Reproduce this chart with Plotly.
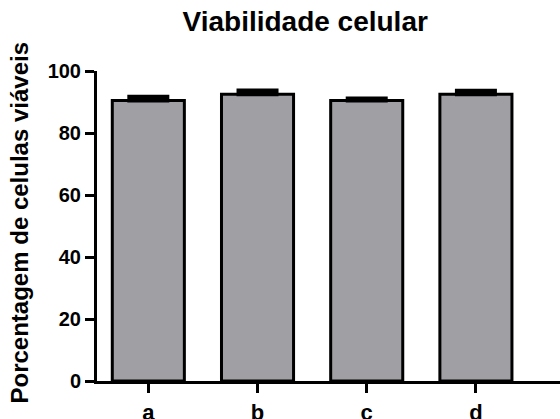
import plotly.graph_objects as go

# Cell viability per group (% viable cells, mean ± SEM)
groups = ["a", "b", "c", "d"]
viability = [90.5, 92.5, 90.5, 92.5]
sem = [1.2, 1.2, 0.6, 1.1]
y_ticks = [0, 20, 40, 60, 80, 100]

font_family = "Liberation Sans, Arial, sans-serif"

fig = go.Figure(
    go.Bar(
        x=groups,
        y=viability,
        width=0.66,
        marker=dict(color="#a0a0a4", line=dict(color="black", width=3)),
        error_y=dict(
            type="data",
            symmetric=False,
            array=sem,
            arrayminus=[0] * len(sem),
            color="black",
            thickness=4,
            width=21,
        ),
    )
)

fig.update_layout(
    width=560,
    height=419,
    margin=dict(l=97, r=0, t=71, b=38),
    paper_bgcolor="white",
    plot_bgcolor="white",
    showlegend=False,
    title=dict(
        text="<b>Viabilidade celular</b>",
        x=0.545,
        xanchor="center",
        y=0.95,
        yanchor="middle",
        font=dict(family=font_family, size=28, color="black"),
    ),
    font=dict(family=font_family, color="black"),
)

# Vertical axis caption placed beside the tick labels
fig.add_annotation(
    text="<b>Porcentagem de celulas viáveis</b>",
    textangle=-90,
    xref="paper",
    yref="paper",
    x=-0.168,
    y=0.512,
    xanchor="center",
    yanchor="middle",
    showarrow=False,
    font=dict(family=font_family, size=24, color="black"),
)

fig.update_xaxes(
    type="category",
    range=[-0.47, 3.77],
    automargin=False,
    showline=True,
    linecolor="black",
    linewidth=3,
    ticks="outside",
    ticklen=9,
    tickwidth=3,
    tickcolor="black",
    ticklabelstandoff=1,
    tickfont=dict(family=font_family, size=22, color="black", weight="bold"),
    showgrid=False,
    zeroline=False,
)

fig.update_yaxes(
    range=[0, 100],
    automargin=False,
    tickvals=y_ticks,
    ticktext=[f"<b>{v}</b>" for v in y_ticks],
    showline=True,
    linecolor="black",
    linewidth=3,
    ticks="outside",
    ticklen=9,
    tickwidth=3,
    tickcolor="black",
    tickfont=dict(family=font_family, size=20, color="black"),
    showgrid=False,
    zeroline=False,
)

fig.write_html("out.html")
